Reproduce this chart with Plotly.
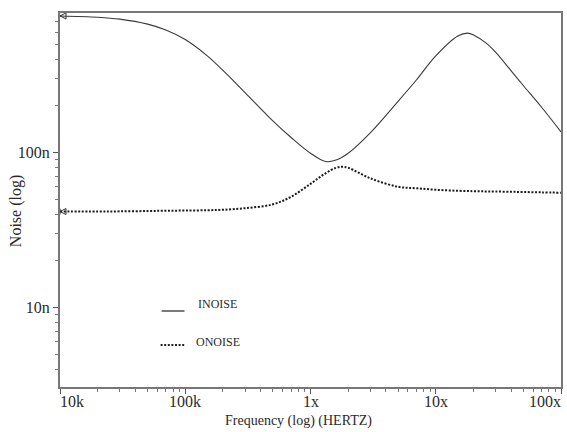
import math
import plotly.graph_objects as go

# Frequency points (Hz)
freq = [1e4, 2e4, 3e4, 5e4, 7e4, 1e5, 1.5e5, 2e5, 3e5, 5e5, 7e5, 1e6, 1.32e6, 1.6e6,
        2e6, 3e6, 5e6, 7e6, 1e7, 1.5e7, 1.8e7, 2e7, 2.5e7, 3e7, 4e7, 5e7, 7e7, 1e8]

# INOISE (V/sqrt(Hz))
inoise = [7.62e-7, 7.48e-7, 7.27e-7, 6.75e-7, 6.19e-7, 5.37e-7, 4.21e-7, 3.39e-7, 2.44e-7,
          1.60e-7, 1.25e-7, 9.9e-8, 8.75e-8, 8.95e-8, 9.9e-8, 1.34e-7, 2.14e-7, 2.94e-7,
          4.21e-7, 5.66e-7, 5.9e-7, 5.75e-7, 5.12e-7, 4.45e-7, 3.37e-7, 2.71e-7, 1.96e-7, 1.36e-7]

# ONOISE frequency points and values
freq_o = [1e4, 2e4, 3e4, 5e4, 7e4, 1e5, 1.5e5, 2e5, 3e5, 5e5, 7e5, 1e6, 1.3e6, 1.6e6,
          1.78e6, 2e6, 3e6, 5e6, 7e6, 1e7, 1.5e7, 2e7, 2.5e7, 3e7, 4e7, 5e7, 7e7, 1e8]
onoise = [4.16e-8, 4.16e-8, 4.17e-8, 4.19e-8, 4.21e-8, 4.22e-8, 4.24e-8, 4.27e-8, 4.37e-8,
          4.63e-8, 5.18e-8, 6.28e-8, 7.29e-8, 7.97e-8, 8.09e-8, 7.97e-8, 6.82e-8, 6.01e-8,
          5.88e-8, 5.75e-8, 5.66e-8, 5.63e-8, 5.61e-8, 5.60e-8, 5.58e-8, 5.56e-8, 5.53e-8, 5.50e-8]

x_tickvals = [1e4, 1e5, 1e6, 1e7, 1e8]
x_ticktext = ["10k", "100k", "1x", "10x", "100x"]
y_tickvals = [1e-8, 1e-7]
y_ticktext = ["10n", "100n"]

series_names = ["INOISE", "ONOISE"]

FONT = "Liberation Serif, Times New Roman, serif"
TXT = "#2a2a2a"
DOTS = "2px,1.6px"

fig = go.Figure()
fig.add_trace(go.Scatter(x=freq, y=inoise, mode="lines", line=dict(color="#3a3a3a", width=1.1, shape="spline", smoothing=1.0),
                         name=series_names[0], showlegend=False))
fig.add_trace(go.Scatter(x=freq_o, y=onoise, mode="lines", line=dict(color="#1a1a1a", width=2, dash=DOTS, shape="spline"),
                         name=series_names[1], showlegend=False))
# start markers (small arrows at the left axis)
fig.add_trace(go.Scatter(x=[freq[0]], y=[inoise[0]], mode="markers",
                         marker=dict(symbol="arrow-left-open", size=6, color="#333", line=dict(width=1, color="#333")),
                         showlegend=False, hoverinfo="skip"))
fig.add_trace(go.Scatter(x=[freq_o[0]], y=[onoise[0]], mode="markers",
                         marker=dict(symbol="arrow-bar-left-open", size=6, color="#333", line=dict(width=1, color="#333")),
                         showlegend=False, hoverinfo="skip"))

fig.update_xaxes(type="log", range=[4, 8], tickvals=x_tickvals, showticklabels=False,
                 ticks="outside", ticklen=5, tickcolor="#555", tickwidth=1,
                 minor=dict(ticks="outside", ticklen=3, dtick="D1", tickcolor="#777", showgrid=False),
                 showgrid=False, zeroline=False, showline=True, linecolor="#777", linewidth=2, mirror=True)
fig.update_yaxes(type="log", range=[-8.514, -6.099], tickvals=y_tickvals, ticktext=y_ticktext,
                 ticks="outside", ticklen=5, tickcolor="#555", tickwidth=1,
                 minor=dict(ticks="outside", ticklen=3, dtick="D1", tickcolor="#777", showgrid=False),
                 showgrid=False, zeroline=False, showline=True, linecolor="#777", linewidth=2, mirror=True,
                 tickfont=dict(family=FONT, size=16, color=TXT))

tick_y = -(401 - 387) / 374
annotations = [
    dict(text="Frequency (log) (HERTZ)", xref="paper", yref="paper", x=(299 - 60) / 503, y=-(421 - 387) / 374,
         xanchor="center", yanchor="middle", showarrow=False, font=dict(family=FONT, size=14, color=TXT)),
    dict(text="Noise (log)", xref="paper", yref="paper", x=-(60 - 16) / 503, y=(387 - 211) / 374, textangle=-90,
         xanchor="center", yanchor="middle", showarrow=False, font=dict(family=FONT, size=16, color=TXT)),
]
for i, (tv, tt) in enumerate(zip(x_tickvals, x_ticktext)):
    if i == 0:
        anc, xs = "left", -2
    elif i == len(x_tickvals) - 1:
        anc, xs = "right", 2
    else:
        anc, xs = "center", 0
    annotations.append(dict(text=tt, xref="x", yref="paper", x=math.log10(tv), y=tick_y, xanchor=anc,
                            yanchor="middle", showarrow=False, xshift=xs,
                            font=dict(family=FONT, size=16, color=TXT)))
annotations += [
    dict(text=series_names[0], xref="paper", yref="paper", x=(197 - 60) / 503, y=(387 - 304) / 374,
         xanchor="left", yanchor="middle", showarrow=False, font=dict(family=FONT, size=12, color=TXT)),
    dict(text=series_names[1], xref="paper", yref="paper", x=(195 - 60) / 503, y=(387 - 342) / 374,
         xanchor="left", yanchor="middle", showarrow=False, font=dict(family=FONT, size=12, color=TXT)),
]

shapes = [
    dict(type="line", xref="paper", yref="paper", x0=(162 - 60) / 503, x1=(185 - 60) / 503,
         y0=(387 - 311) / 374, y1=(387 - 311) / 374, line=dict(color="#222", width=1.2)),
    dict(type="line", xref="paper", yref="paper", x0=(161 - 60) / 503, x1=(186 - 60) / 503,
         y0=(387 - 345) / 374, y1=(387 - 345) / 374, line=dict(color="#222", width=2, dash=DOTS)),
]

fig.update_layout(width=567, height=432, margin=dict(l=60, r=4, t=13, b=45),
                  paper_bgcolor="white", plot_bgcolor="white",
                  annotations=annotations, shapes=shapes, showlegend=False)

fig.write_html("out.html")
